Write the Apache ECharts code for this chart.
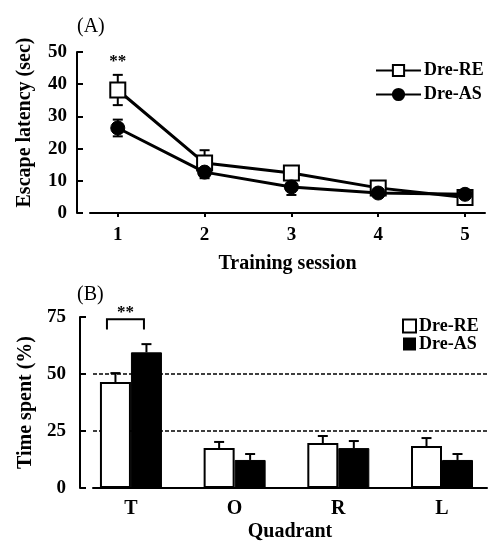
<!DOCTYPE html>
<html>
<head>
<meta charset="utf-8">
<script src="https://cdn.jsdelivr.net/npm/echarts@6/dist/echarts.min.js"></script>
<style>
html,body{margin:0;padding:0;background:#fff;}
#chart{width:488px;height:548px;}
</style>
</head>
<body>
<div id="chart"></div>
<script>
// Panel A data
const sessions = [1, 2, 3, 4, 5];
const latencyRE = [38.2, 15.5, 12.4, 7.8, 4.8];
const latencyREErr = [4.7, 4.0, 2.0, 1.5, 1.5];
const latencyAS = [26.4, 12.7, 8.1, 6.2, 5.8];
const latencyASErr = [2.6, 1.9, 2.5, 1.0, 1.0];
// Panel B data
const quadrants = ['T', 'O', 'R', 'L'];
const quadrantPos = [1, 2, 3, 4];
const timeRE = [46.5, 17.5, 19.7, 18.4];
const timeREErr = [3.9, 2.7, 3.1, 3.5];
const timeAS = [59.5, 12.3, 17.5, 12.3];
const timeASErr = [3.6, 2.6, 3.1, 2.6];

const FONT = 'Liberation Serif';
const bold = (size) => ({ fontFamily: FONT, fontWeight: 'bold', fontSize: size, color: '#000' });

const chart = echarts.init(document.getElementById('chart'), null, { renderer: 'canvas' });

function errRenderer(both, pxOffset) {
  return function (params, api) {
    const x = api.value(0), y = api.value(1), e = api.value(2);
    const top = api.coord([x, y + e]);
    const bot = both ? api.coord([x, y - e]) : api.coord([x, y]);
    const cx = top[0] + pxOffset;
    const hw = 5;
    const st = { stroke: '#000', lineWidth: 2 };
    const children = [
      { type: 'line', shape: { x1: cx, y1: top[1], x2: cx, y2: bot[1] }, style: st },
      { type: 'line', shape: { x1: cx - hw, y1: top[1], x2: cx + hw, y2: top[1] }, style: st }
    ];
    if (both) children.push({ type: 'line', shape: { x1: cx - hw, y1: bot[1], x2: cx + hw, y2: bot[1] }, style: st });
    return { type: 'group', children };
  };
}

const option = {
  animation: false,
  backgroundColor: '#fff',
  title: [
    { text: '(A)', left: 72, top: 12, textStyle: { fontFamily: FONT, fontWeight: 'normal', fontSize: 20, color: '#000' } },
    { text: '(B)', left: 72, top: 280, textStyle: { fontFamily: FONT, fontWeight: 'normal', fontSize: 20, color: '#000' } }
  ],
  legend: [
    {
      orient: 'vertical', left: 375, top: 61, padding: 0, itemWidth: 45, itemHeight: 14, itemGap: 5,
      data: ['Dre-RE', 'Dre-AS'], selectedMode: false,
      textStyle: { ...bold(18), lineHeight: 19, padding: [0, 0, 0, -2] }
    },
    {
      orient: 'vertical', left: 402, top: 317, padding: 0, itemWidth: 13, itemHeight: 13, itemGap: 0,
      selectedMode: false,
      data: [
        { name: 'Dre-RE', icon: 'rect', itemStyle: { color: '#fff', borderColor: '#000', borderWidth: 2 } },
        { name: 'Dre-AS', icon: 'rect', itemStyle: { color: '#000', borderColor: '#000', borderWidth: 0 } }
      ],
      textStyle: { ...bold(18), lineHeight: 17, padding: [0, 0, 0, -2] }
    }
  ],
  grid: [
    { left: 90, right: 3, top: 52, height: 161 },
    { left: 93, right: 1, top: 317, height: 171 }
  ],
  xAxis: [
    {
      type: 'value', gridIndex: 0, min: 0.68, max: 5.23,
      name: 'Training session', nameLocation: 'middle', nameGap: 41,
      nameTextStyle: bold(20),
      axisLine: { lineStyle: { color: '#000', width: 2 } },
      axisTick: { show: true, inside: false, length: 4, customValues: sessions, lineStyle: { color: '#000', width: 2 } },
      axisLabel: { customValues: sessions, margin: 13, ...bold(19) },
      splitLine: { show: false }
    },
    {
      type: 'value', gridIndex: 1, min: 0.634, max: 4.434,
      name: 'Quadrant', nameLocation: 'middle', nameGap: 34,
      nameTextStyle: bold(20),
      axisLine: { lineStyle: { color: '#000', width: 2 } },
      axisTick: { show: false, customValues: quadrantPos },
      axisLabel: { customValues: quadrantPos, margin: 11, formatter: (v) => quadrants[Math.round(v) - 1], ...bold(20) },
      splitLine: { show: false }
    }
  ],
  yAxis: [
    {
      type: 'value', gridIndex: 0, min: 0, max: 50, interval: 10, offset: 13,
      name: 'Escape latency (sec)', nameLocation: 'middle', nameGap: 42,
      nameTextStyle: { ...bold(20), padding: [0, 0, 0, 20] },
      axisLine: { show: true, lineStyle: { color: '#000', width: 2 } },
      axisTick: { show: true, inside: true, length: 6, lineStyle: { color: '#000', width: 2 } },
      axisLabel: { margin: 10, ...bold(19) },
      splitLine: { show: false }
    },
    {
      type: 'value', gridIndex: 1, min: 0, max: 75, interval: 25, offset: 13,
      name: 'Time spent (%)', nameLocation: 'middle', nameGap: 40,
      nameTextStyle: bold(20),
      axisLine: { show: true, lineStyle: { color: '#000', width: 2 } },
      axisTick: { show: true, inside: true, length: 6, lineStyle: { color: '#000', width: 2 } },
      axisLabel: { margin: 14, ...bold(19) },
      splitLine: { show: true, lineStyle: { type: [4, 2], width: 1.5, color: ['rgba(0,0,0,0)', '#000', '#000', 'rgba(0,0,0,0)'] } }
    }
  ],
  series: [
    {
      type: 'custom', name: 'errRE', xAxisIndex: 0, yAxisIndex: 0, z: 1,
      renderItem: errRenderer(true, 0),
      data: sessions.map((s, i) => [s, latencyRE[i], latencyREErr[i]])
    },
    {
      type: 'custom', name: 'errAS', xAxisIndex: 0, yAxisIndex: 0, z: 1,
      renderItem: errRenderer(true, 0),
      data: sessions.map((s, i) => [s, latencyAS[i], latencyASErr[i]])
    },
    {
      type: 'line', name: 'Dre-RE', xAxisIndex: 0, yAxisIndex: 0, z: 3,
      data: sessions.map((s, i) => [s, latencyRE[i]]),
      symbol: 'rect', symbolSize: 15,
      itemStyle: { color: '#fff', borderColor: '#000', borderWidth: 2 },
      lineStyle: { color: '#000', width: 3 }
    },
    {
      type: 'line', name: 'Dre-AS', xAxisIndex: 0, yAxisIndex: 0, z: 4,
      data: sessions.map((s, i) => [s, latencyAS[i]]),
      symbol: 'circle', symbolSize: 14,
      itemStyle: { color: '#000', borderColor: '#000', borderWidth: 1 },
      lineStyle: { color: '#000', width: 3 }
    },
    {
      type: 'bar', name: 'Dre-RE', xAxisIndex: 1, yAxisIndex: 1, z: 3,
      data: quadrantPos.map((q, i) => [q, timeRE[i]]),
      barWidth: 31, barGap: '0%',
      itemStyle: { color: '#fff', borderColor: '#000', borderWidth: 2 }
    },
    {
      type: 'bar', name: 'Dre-AS', xAxisIndex: 1, yAxisIndex: 1, z: 3,
      data: quadrantPos.map((q, i) => [q, timeAS[i]]),
      barWidth: 31, barGap: '0%',
      itemStyle: { color: '#000', borderColor: '#000', borderWidth: 1 }
    },
    {
      type: 'custom', name: 'errBRE', xAxisIndex: 1, yAxisIndex: 1, z: 2,
      renderItem: errRenderer(false, -15.5),
      data: quadrantPos.map((q, i) => [q, timeRE[i], timeREErr[i]])
    },
    {
      type: 'custom', name: 'errBAS', xAxisIndex: 1, yAxisIndex: 1, z: 2,
      renderItem: errRenderer(false, 15.5),
      data: quadrantPos.map((q, i) => [q, timeAS[i], timeASErr[i]])
    }
  ]
};
chart.setOption(option);

// significance annotations positioned through the axes
const starA = chart.convertToPixel({ gridIndex: 0 }, [sessions[0], 47]);
const bx = chart.convertToPixel({ xAxisIndex: 1 }, quadrantPos[0]);
const byTop = chart.convertToPixel({ yAxisIndex: 1 }, 74);
const byLeg = chart.convertToPixel({ yAxisIndex: 1 }, 69.5);
const bl = bx - 24, br = bx + 13;
chart.setOption({
  graphic: [
    { type: 'text', x: starA[0], y: starA[1], style: { text: '**', font: 'bold 17px "Liberation Serif"', fill: '#000', align: 'center', verticalAlign: 'middle' } },
    { type: 'polyline', shape: { points: [[bl, byLeg], [bl, byTop], [br, byTop], [br, byLeg]] }, style: { stroke: '#000', lineWidth: 2, fill: null } },
    { type: 'text', x: (bl + br) / 2, y: byTop - 7, style: { text: '**', font: 'bold 17px "Liberation Serif"', fill: '#000', align: 'center', verticalAlign: 'middle' } }
  ]
});
</script>
</body>
</html>
